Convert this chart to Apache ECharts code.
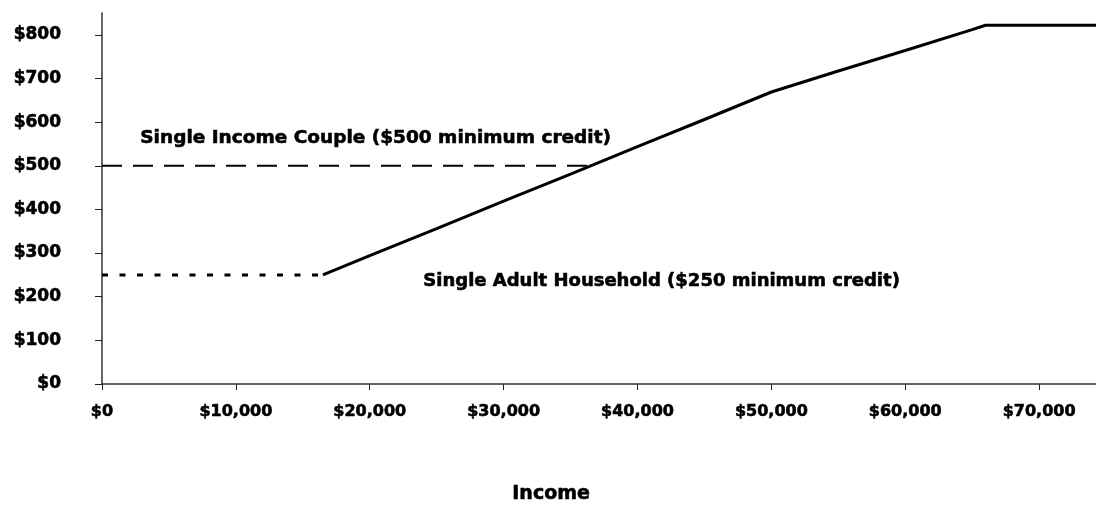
<!DOCTYPE html>
<html><head><meta charset="utf-8">
<script src="https://cdn.jsdelivr.net/npm/echarts@6/dist/echarts.min.js"></script>
<style>html,body{margin:0;padding:0;background:#fff}#c{width:1096px;height:508px}</style>
</head><body><div id="c"></div>
<script>
// Data
const risingIncome = [16500, 20000, 25000, 30000, 35000, 40000, 45000, 50000, 55000, 60000, 65000, 66000, 74250];
const risingCredit = [250, 294, 356, 419, 481, 544, 606, 669, 717, 764, 812, 822, 822];
const singleIncome = [0, 16500];
const singleCredit = [250, 250];
const coupleIncome = [0, 36500];
const coupleCredit = [500, 500];
const yTicks = [0, 100, 200, 300, 400, 500, 600, 700, 800];
const xTicks = [0, 10000, 20000, 30000, 40000, 50000, 60000, 70000];
const coupleLabel = 'Single Income Couple ($500 minimum credit)';
const singleLabel = 'Single Adult Household ($250 minimum credit)';
const xTitle = 'Income';

const zip = (a, b) => a.map((v, i) => [v, b[i]]);
const money = v => '$' + v.toLocaleString('en-US');
const FONT = 'DejaVu Sans';

const chart = echarts.init(document.getElementById('c'), null, {renderer: 'canvas'});
chart.setOption({
  animation: false,
  backgroundColor: '#fff',
  grid: {left: 102, right: 0, top: 13, bottom: 124, containLabel: false},
  xAxis: {
    type: 'value', min: 0, max: 74250, interval: 10000,
    splitLine: {show: false},
    axisLine: {lineStyle: {color: '#333', width: 1.5}},
    axisTick: {length: 6, lineStyle: {color: '#222', width: 1}, customValues: xTicks},
    axisLabel: {customValues: xTicks, formatter: v => money(v), margin: 20,
      fontFamily: FONT, fontWeight: 'bold', fontSize: 16, color: '#000',
      textBorderColor: '#000', textBorderWidth: 0.6}
  },
  yAxis: {
    type: 'value', min: 0, max: 850, interval: 50,
    splitLine: {show: false},
    axisLine: {show: true, lineStyle: {color: '#333', width: 1.5}},
    axisTick: {show: true, length: 7, lineStyle: {color: '#222', width: 1}, customValues: yTicks},
    axisLabel: {customValues: yTicks, formatter: v => money(v), margin: 41,
      fontFamily: FONT, fontWeight: 'bold', fontSize: 17, color: '#000',
      textBorderColor: '#000', textBorderWidth: 0.6}
  },
  series: [
    {type: 'line', data: zip(risingIncome, risingCredit), showSymbol: false, symbol: 'none',
      lineStyle: {color: '#000', width: 3}, z: 3},
    {type: 'line', data: zip(singleIncome, singleCredit), showSymbol: false, symbol: 'none',
      lineStyle: {color: '#000', width: 3, type: [6, 11.5]}, z: 2},
    {type: 'line', data: zip(coupleIncome, coupleCredit), showSymbol: false, symbol: 'none',
      lineStyle: {color: '#000', width: 2, type: [20, 11]}, z: 2}
  ],
  graphic: [
    {type: 'text', left: 140, top: 128, style: {text: coupleLabel, font: 'bold 18.5px "DejaVu Sans"', fill: '#000', stroke: '#000', lineWidth: 0.6}},
    {type: 'text', left: 423, top: 272, style: {text: singleLabel, font: 'bold 18px "DejaVu Sans"', fill: '#000', stroke: '#000', lineWidth: 0.6}},
    {type: 'text', left: 512, top: 484, style: {text: xTitle, font: 'bold 19px "DejaVu Sans"', fill: '#000', stroke: '#000', lineWidth: 0.6}}
  ]
});
</script></body></html>
